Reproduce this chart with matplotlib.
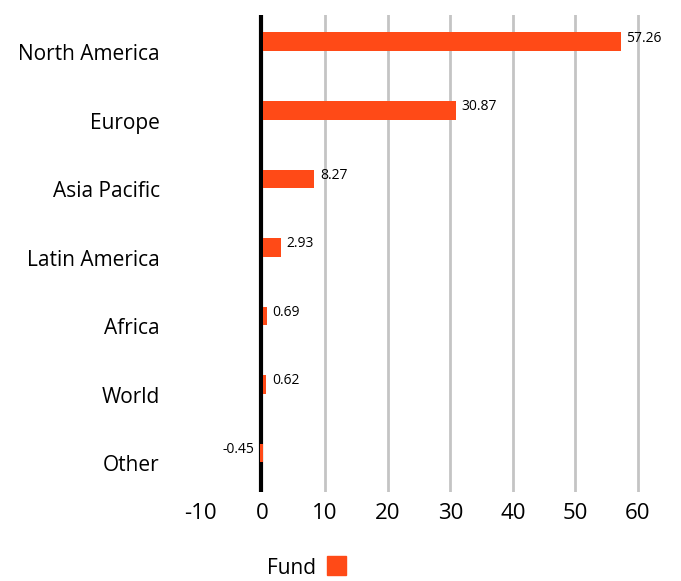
import numpy as np
import matplotlib.pyplot as plt
from matplotlib.patches import Rectangle

regions = ['North America', 'Europe', 'Asia Pacific', 'Latin America', 'Africa', 'World', 'Other']
fund = [57.26, 30.87, 8.27, 2.93, 0.69, 0.62, -0.45]
xticks = [-10, 0, 10, 20, 30, 40, 50, 60]

plt.rcParams['font.family'] = ['Open Sans', 'DejaVu Sans']
orange = '#FF4A17'

fig = plt.figure(figsize=(6.81, 5.81), dpi=100)
# axes placed in pixel terms of the reference
W, H = 681, 581
ax = fig.add_axes([200 / W, (H - 492) / H, (663 - 200) / W, (492 - 15) / H])

y = np.arange(len(regions))
ax.barh(y - 0.15, fund, height=0.27, color=orange, zorder=5)

for yi, v in zip(y, fund):
    if v >= 0:
        ax.text(v + 0.9, yi - 0.2, f'{v:.2f}', va='center', ha='left', fontsize=10)
    else:
        ax.text(v - 0.9, yi - 0.2, f'{v:.2f}', va='center', ha='right', fontsize=10)

ax.set_xlim(-10, 64)
ax.set_ylim(6.42, -0.54)
ax.set_xticks(xticks)
ax.set_xticklabels([str(t) for t in xticks], fontsize=16)
ax.set_yticks(y)
ax.set_yticklabels(regions, fontsize=15)
ax.tick_params(length=0)
ax.tick_params(axis='x', pad=8)
ax.tick_params(axis='y', pad=29)

for t in xticks[2:]:
    ax.axvline(t, color='#c4c4c4', lw=2, zorder=1)
ax.axvline(-0.2, color='black', lw=3, zorder=4)

for s in ax.spines.values():
    s.set_visible(False)

# legend at bottom
fig.text(267 / W, 1 - 569 / H, 'Fund', fontsize=15, va='center', ha='left')
fig.patches.append(Rectangle((327 / W, 1 - 575 / H), 19 / W, 19 / H,
                             transform=fig.transFigure, color=orange))

fig.savefig('out.png', dpi=100)
